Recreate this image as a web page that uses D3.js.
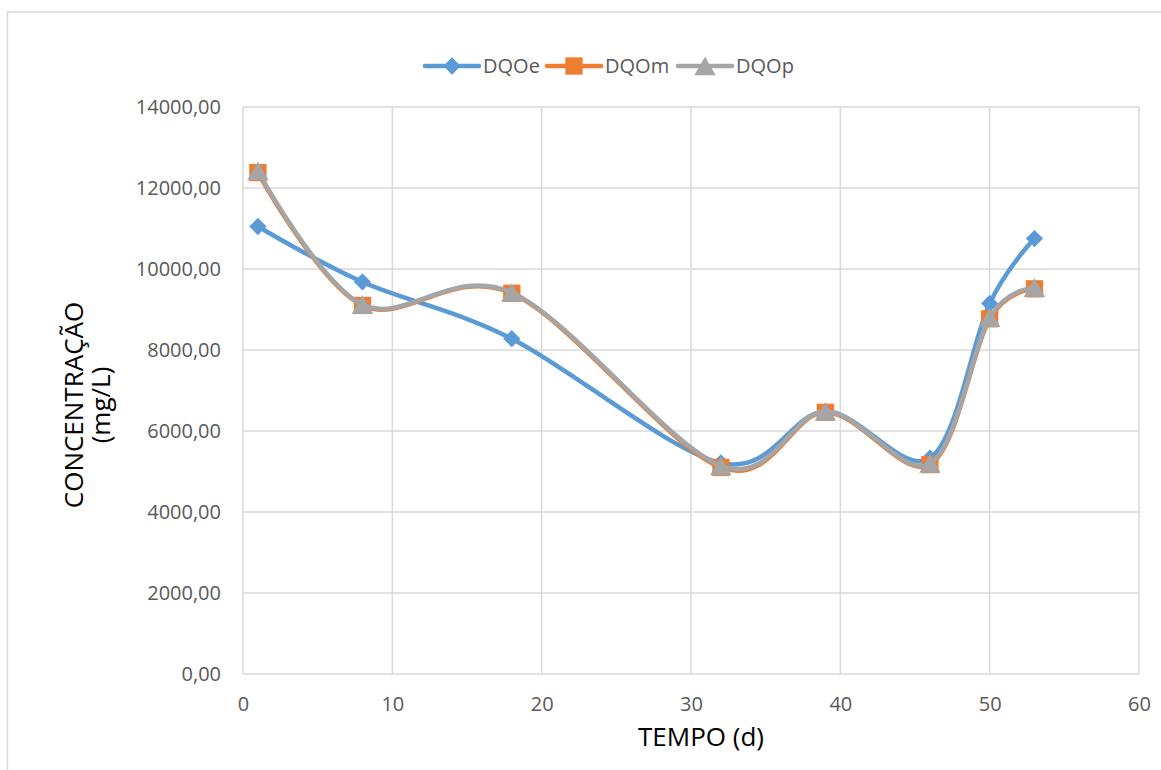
<!DOCTYPE html>
<html>
<head>
<meta charset="utf-8">
<script src="https://cdn.jsdelivr.net/npm/d3@7"></script>
<style>
  html, body { margin: 0; padding: 0; background: #fff; }
  svg { display: block; font-family: "Open Sans", sans-serif; }
</style>
</head>
<body>
<svg id="chart" width="1161" height="770"></svg>
<script>
// Sampling days
const days = [1, 8, 18, 32, 39, 46, 50, 53];
// COD concentrations (mg/L) per series
const dqoE = [11050, 9680, 8280, 5210, 6480, 5330, 9150, 10750];
const dqoM = [12380, 9100, 9400, 5100, 6460, 5170, 8770, 9510];
const dqoP = [12420, 9120, 9420, 5140, 6480, 5200, 8800, 9540];
const seriesNames = ["DQOe", "DQOm", "DQOp"];
const xTicks = [0, 10, 20, 30, 40, 50, 60];
const yTicks = [0, 2000, 4000, 6000, 8000, 10000, 12000, 14000];

const colors = { DQOe: "#5b9bd5", DQOm: "#ed7d31", DQOp: "#a5a5a5" };
const seriesData = { DQOe: dqoE, DQOm: dqoM, DQOp: dqoP };

// marker shape per series (diamond = rotated square, triangle centred on its box)
const triSize = 200;
const triH = Math.sqrt(3) / 2 * Math.sqrt(triSize / (Math.sqrt(3) / 4));
const markerPath = {
  DQOe: d3.symbol().type(d3.symbolSquare).size(150)(),
  DQOm: d3.symbol().type(d3.symbolSquare).size(300)(),
  DQOp: d3.symbol().type(d3.symbolTriangle).size(triSize)()
};
const markerShift = { DQOe: "rotate(45)", DQOm: "", DQOp: `translate(0,${triH / 6})` };

const svg = d3.select("#chart");
const grid = "#d9d9d9";

// outer chart frame
svg.append("rect")
  .attr("x", 7.5).attr("y", 12).attr("width", 1200).attr("height", 800)
  .attr("fill", "none").attr("stroke", grid).attr("stroke-width", 1.5);

const plot = { left: 243, right: 1139, top: 107, bottom: 674 };
const x = d3.scaleLinear().domain([0, 60]).range([plot.left, plot.right]);
const y = d3.scaleLinear().domain([0, 14000]).range([plot.bottom, plot.top]);

// gridlines
svg.append("g").selectAll("line").data(yTicks).join("line")
  .attr("x1", plot.left).attr("x2", plot.right)
  .attr("y1", d => y(d)).attr("y2", d => y(d))
  .attr("stroke", grid).attr("stroke-width", 1.5);
svg.append("g").selectAll("line").data(xTicks).join("line")
  .attr("y1", plot.top).attr("y2", plot.bottom)
  .attr("x1", d => x(d)).attr("x2", d => x(d))
  .attr("stroke", grid).attr("stroke-width", 1.5);

// axes (labels only, lines drawn as grid)
const fmt = d => d3.format(".2f")(d).replace(".", ",");
const yAxis = svg.append("g").attr("transform", `translate(${plot.left - 22},0)`)
  .call(d3.axisLeft(y).tickValues(yTicks).tickFormat(fmt).tickSize(0).tickPadding(0));
const xAxis = svg.append("g").attr("transform", `translate(0,${plot.bottom + 18})`)
  .call(d3.axisBottom(x).tickValues(xTicks).tickFormat(d3.format("d")).tickSize(0).tickPadding(0));
[yAxis, xAxis].forEach(a => {
  a.select(".domain").remove();
  a.selectAll("text").attr("fill", "#595959")
    .style("font-family", "'Open Sans', sans-serif").style("font-size", "20px");
});
xAxis.selectAll("text").attr("dy", "0.95em");

// axis titles
svg.append("text").attr("x", 701).attr("y", 746).attr("text-anchor", "middle")
  .attr("fill", "#000").style("font-size", "26px").text("TEMPO (d)");
const yt = svg.append("text").attr("transform", "translate(83,405) rotate(-90)")
  .attr("text-anchor", "middle").attr("fill", "#000").style("font-size", "26px");
yt.append("tspan").attr("x", 0).attr("dy", 0).text("CONCENTRAÇÃO");
yt.append("tspan").attr("x", 0).attr("dy", 27).text("(mg/L)");

// smoothed lines and markers
const line = d3.line().x(d => x(d[0])).y(d => y(d[1])).curve(d3.curveCardinal.tension(0));
seriesNames.forEach(name => {
  const pts = days.map((d, i) => [d, seriesData[name][i]]);
  const g = svg.append("g");
  g.append("path").datum(pts).attr("d", line)
    .attr("fill", "none").attr("stroke", colors[name]).attr("stroke-width", 4.5)
    .attr("stroke-linecap", "round").attr("stroke-linejoin", "round");
  g.selectAll("path.m").data(pts).join("path").attr("class", "m")
    .attr("transform", d => `translate(${x(d[0])},${y(d[1])}) ${markerShift[name]}`)
    .attr("d", markerPath[name])
    .attr("fill", colors[name]);
});

// legend
const legendItems = [
  { name: "DQOe", x0: 425 },
  { name: "DQOm", x0: 547 },
  { name: "DQOp", x0: 678 }
];
const ly = 66;
legendItems.forEach(it => {
  const g = svg.append("g");
  g.append("line").attr("x1", it.x0).attr("x2", it.x0 + 54).attr("y1", ly).attr("y2", ly)
    .attr("stroke", colors[it.name]).attr("stroke-width", 4.5).attr("stroke-linecap", "round");
  g.append("path")
    .attr("transform", `translate(${it.x0 + 27},${ly}) ${markerShift[it.name]}`)
    .attr("d", markerPath[it.name])
    .attr("fill", colors[it.name]);
  g.append("text").attr("x", it.x0 + 58).attr("y", ly).attr("dy", "0.35em")
    .attr("fill", "#595959").style("font-size", "20px").text(it.name);
});
</script>
</body>
</html>
